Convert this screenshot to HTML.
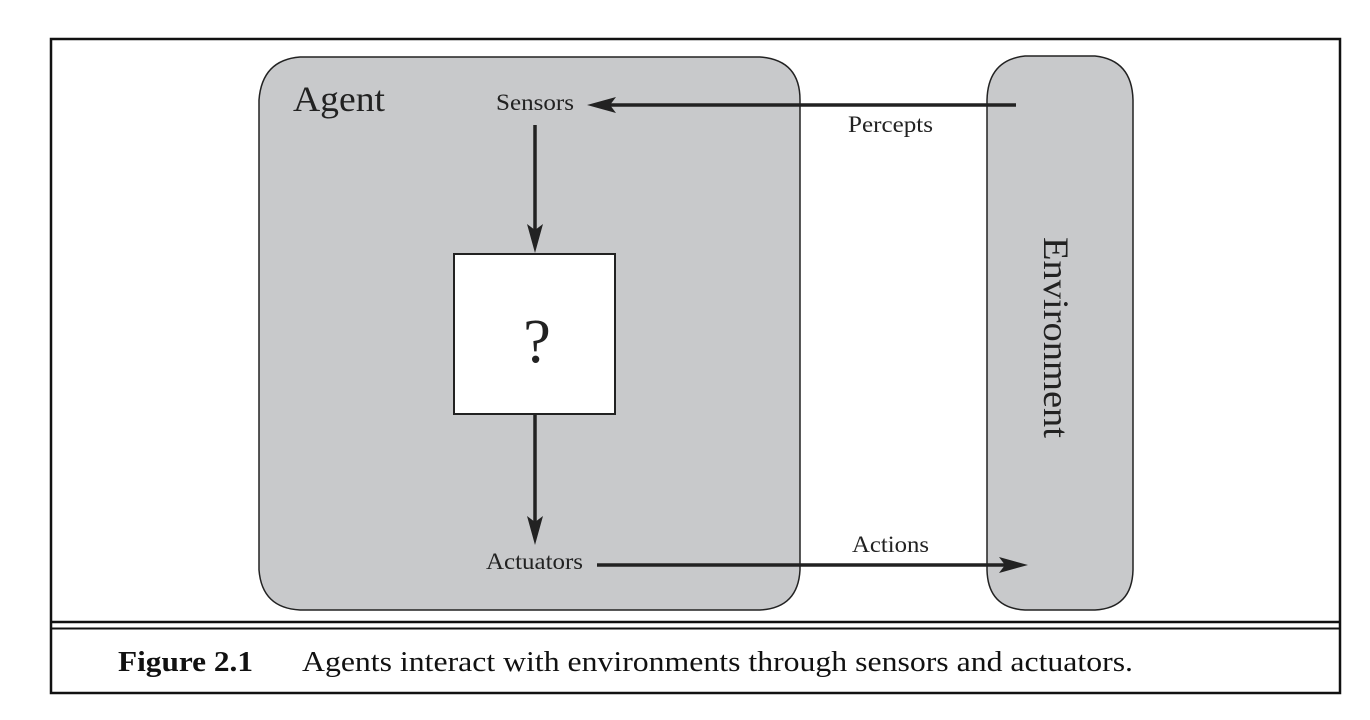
<!DOCTYPE html>
<html><head><style>
body{margin:0;background:#fff;width:1370px;height:715px;overflow:hidden}
</style></head><body>
<svg width="1370" height="715" xmlns="http://www.w3.org/2000/svg" font-family="Liberation Serif, serif">
<rect x="51" y="39" width="1289" height="654" fill="none" stroke="#111" stroke-width="2.5"/>
<line x1="51" y1="622" x2="1340" y2="622" stroke="#111" stroke-width="2.5"/>
<line x1="51" y1="628.5" x2="1340" y2="628.5" stroke="#111" stroke-width="2"/>
<path d="M300 57 H760 Q800 60 800 100 V570 Q798 608 760 610 H300 Q262 608 259 570 V100 Q262 60 300 57 Z" fill="#c8c9cb" stroke="#222" stroke-width="1.5"/>
<path d="M1025 56 H1095 Q1132 60 1133 100 V570 Q1132 608 1095 610 H1025 Q988 608 987 570 V100 Q988 60 1025 56 Z" fill="#c8c9cb" stroke="#222" stroke-width="1.5"/>
<rect x="454" y="254" width="161" height="160" fill="#fff" stroke="#222" stroke-width="2"/>
<text x="537" y="362" font-size="62" text-anchor="middle" fill="#222">?</text>
<text x="293" y="111" font-size="36" fill="#222" textLength="92" lengthAdjust="spacingAndGlyphs">Agent</text>
<text x="496" y="110" font-size="23" fill="#222" textLength="78" lengthAdjust="spacingAndGlyphs">Sensors</text>
<text x="486" y="569" font-size="23" fill="#222" textLength="97" lengthAdjust="spacingAndGlyphs">Actuators</text>
<text x="848" y="132" font-size="23" fill="#222" textLength="85" lengthAdjust="spacingAndGlyphs">Percepts</text>
<text x="852" y="552" font-size="23" fill="#222" textLength="77" lengthAdjust="spacingAndGlyphs">Actions</text>
<text transform="translate(1044,237) rotate(90)" font-size="36" fill="#222" textLength="201" lengthAdjust="spacingAndGlyphs">Environment</text>
<g stroke="#222" stroke-width="3.5">
<line x1="1016" y1="105" x2="605" y2="105"/>
<line x1="597" y1="565" x2="1010" y2="565"/>
<line x1="535" y1="125" x2="535" y2="236"/>
<line x1="535" y1="415" x2="535" y2="528"/>
</g>
<g fill="#222">
<polygon points="587,105 616,97 610,105 616,113"/>
<polygon points="1028,565 999,557 1005,565 999,573"/>
<polygon points="535,253 527,224 535,230 543,224"/>
<polygon points="535,545 527,516 535,522 543,516"/>
</g>
<text x="118" y="671" font-size="28" font-weight="bold" fill="#111" textLength="135" lengthAdjust="spacingAndGlyphs">Figure 2.1</text>
<text x="302" y="671" font-size="28" fill="#111" textLength="831" lengthAdjust="spacingAndGlyphs">Agents interact with environments through sensors and actuators.</text>
</svg>
</body></html>
